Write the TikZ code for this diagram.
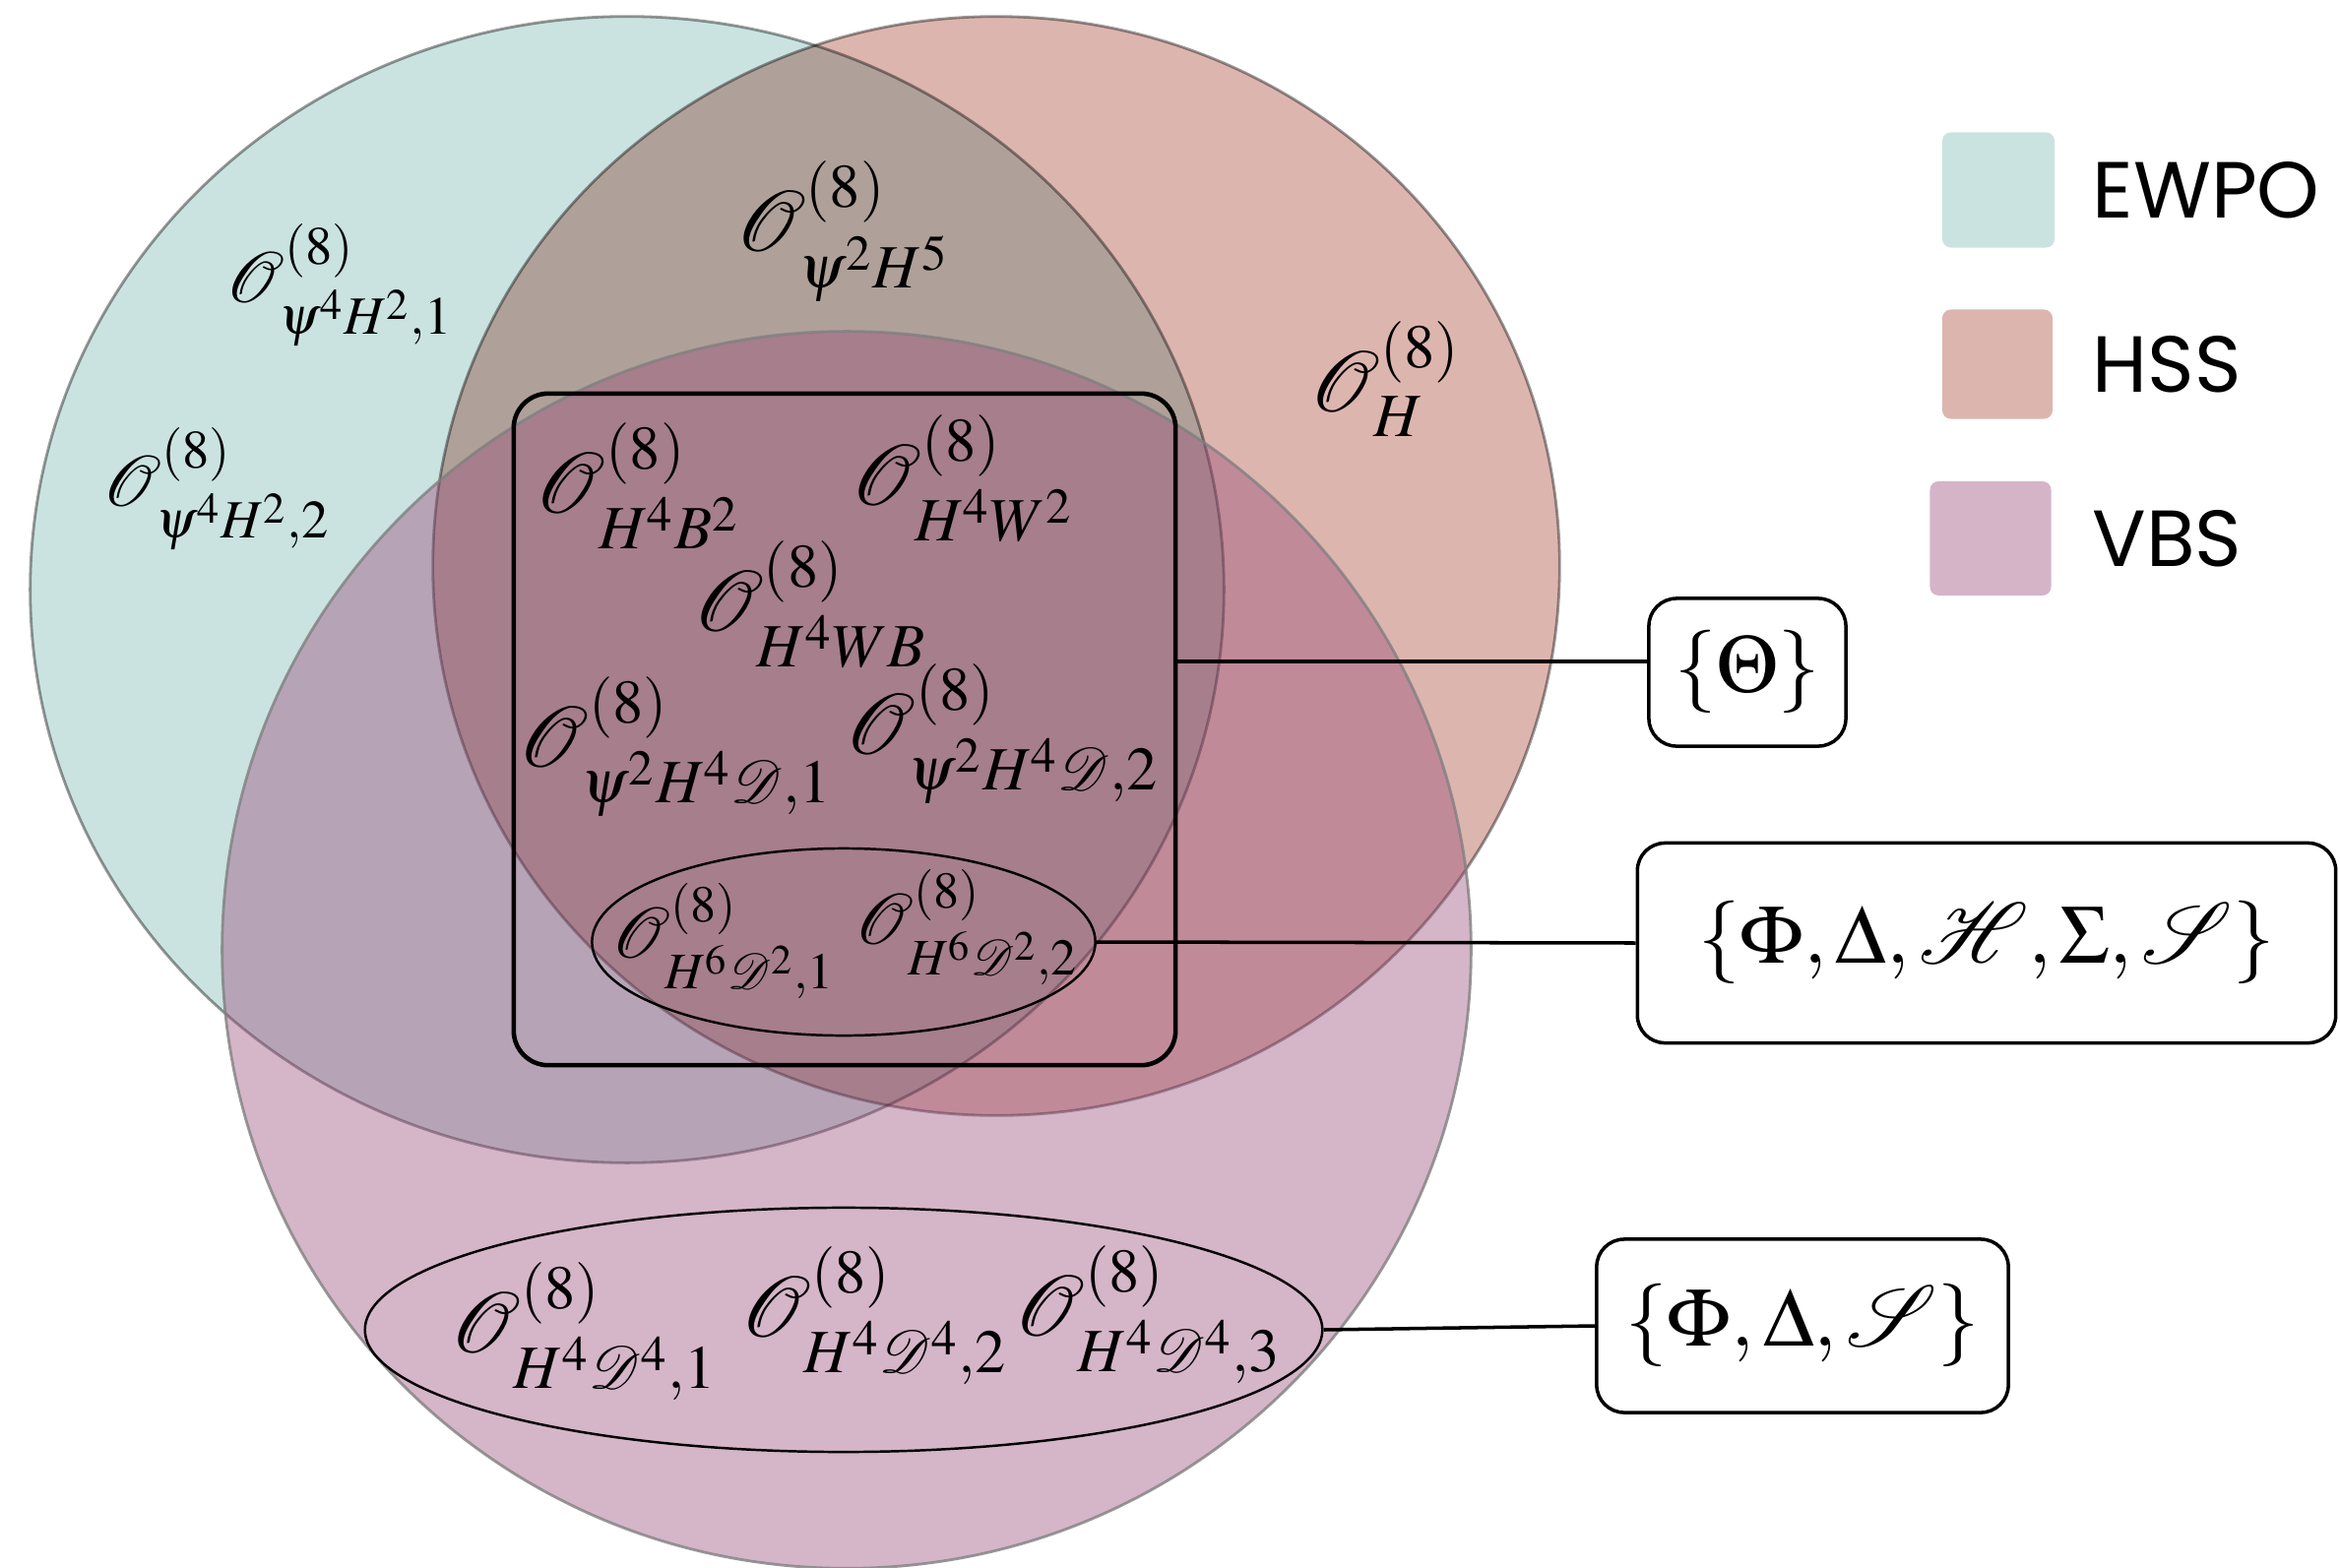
\documentclass[tikz,border=0pt]{standalone}
\usepackage{amsmath}
\usepackage{mathptmx}
\usepackage{mathrsfs}
\usepackage[no-math]{fontspec}
\usepackage{tikz}
\usetikzlibrary{shapes.geometric,positioning}
\newfontfamily\legendfont{Poppins}
\definecolor{VennTeal}{RGB}{202,227,224}
\definecolor{VennSalmon}{RGB}{221,181,175}
\definecolor{VennPink}{RGB}{213,180,200}
\definecolor{VennPinkBase}{RGB}{155,79,124}
\newcommand{\Oeight}[1]{$\mathscr{O}^{(8)}_{#1}$}

\begin{document}
\begin{tikzpicture}[x=0.01cm,y=-0.01cm,
  setline/.style={draw=black!50,draw opacity=0.8,line width=0.8pt},
  oplabel/.style={font=\fontsize{24}{28}\selectfont,inner sep=0pt},
  midop/.style={font=\fontsize{21}{25}\selectfont,inner sep=0pt},
  smallop/.style={font=\fontsize{20}{24}\selectfont,inner sep=0pt},
  famtag/.style={draw,line width=1pt,rounded corners=8pt,inner sep=0pt,font=\fontsize{24}{28}\selectfont},
  legsq/.style={rounded corners=2.5pt,inner sep=0pt},
  legtxt/.style={inner sep=0pt,font=\legendfont\fontsize{23}{28}\selectfont}]
\useasboundingbox (0,0) rectangle (2377,1593);

% the three sets
\begin{scope}[blend group=multiply]
\filldraw[VennTeal,setline] (637,599) ellipse [x radius=6.06cm,y radius=5.82cm];
\filldraw[VennSalmon,setline] (1012,575) ellipse [x radius=5.72cm,y radius=5.58cm];
\end{scope}
\filldraw[fill=VennPinkBase,fill opacity=0.42,setline] (860,965) ellipse [x radius=6.34cm,y radius=6.28cm];

% groups inside the sets
\node[draw,line width=1.3pt,rounded corners=10pt,minimum width=6.72cm,minimum height=6.82cm] (allbox) at (858,741) {};
\node[ellipse,draw,line width=0.7pt,inner sep=0pt,minimum width=5.11cm,minimum height=1.90cm] (sixell) at (857,957) {};
\node[ellipse,draw,line width=0.7pt,inner sep=0pt,minimum width=9.72cm,minimum height=2.48cm] (fourell) at (857,1351) {};

% operators
\node[midop] (psiA) at (345,290) {\Oeight{\psi^4H^2,1}};
\node[midop] (psiB) at (220,497) {\Oeight{\psi^4H^2,2}};
\node[oplabel] (psiH) at (856,235) {\Oeight{\psi^2H^5}};
\node[oplabel] (hsix) at (1407,385) {\Oeight{H}};
\node[oplabel] (hbb) at (648,494) {\Oeight{H^4B^2}};
\node[oplabel] (hww) at (978,486) {\Oeight{H^4W^2}};
\node[oplabel] (hwb) at (823,614) {\Oeight{H^4WB}};
\node[oplabel] (psiDA) at (686,759) {\Oeight{\psi^2H^4\mathscr{D},1}};
\node[oplabel] (psiDB) at (1018,746) {\Oeight{\psi^2H^4\mathscr{D},2}};
\node[smallop] (hdA) at (735,956) {\Oeight{H^6\mathscr{D}^2,1}};
\node[smallop] (hdB) at (982,942) {\Oeight{H^6\mathscr{D}^2,2}};
\node[oplabel] (hddA) at (593,1353) {\Oeight{H^4\mathscr{D}^4,1}};
\node[oplabel] (hddB) at (888,1337) {\Oeight{H^4\mathscr{D}^4,2}};
\node[oplabel] (hddC) at (1166,1336) {\Oeight{H^4\mathscr{D}^4,3}};

% field content
\node[famtag,minimum width=2.00cm,minimum height=1.50cm] (thetatag) at (1775,683) {$\{\Theta\}$};
\node[famtag,minimum width=7.09cm,minimum height=2.03cm] (fivetag) at (2018,958) {$\{\Phi,\Delta,\mathscr{H},\Sigma,\mathscr{S}\}$};
\node[famtag,minimum width=4.18cm,minimum height=1.76cm] (threetag) at (1831,1347) {$\{\Phi,\Delta,\mathscr{S}\}$};
\draw[line width=1pt] ([yshift=0.11cm]thetatag.west) -- ([yshift=0.11cm]thetatag.west -| allbox.east);
\draw[line width=1pt] (sixell.east) -- (fivetag.west);
\draw[line width=1pt] (fourell.east) -- (threetag.west);

% legend
\node[legsq,fill=VennTeal,minimum width=1.14cm,minimum height=1.17cm] (legewpo) at (2030,193) {};
\node[legsq,fill=VennSalmon,minimum width=1.12cm,minimum height=1.11cm] (leghss) at (2029,370) {};
\node[legsq,fill=VennPink,minimum width=1.23cm,minimum height=1.16cm] (legvbs) at (2022,547) {};
\node[legtxt,anchor=west] at (2125,193) {EWPO};
\node[legtxt,anchor=west] at (2125,370) {HSS};
\node[legtxt,anchor=west] at (2125,547) {VBS};
\end{tikzpicture}
\end{document}
